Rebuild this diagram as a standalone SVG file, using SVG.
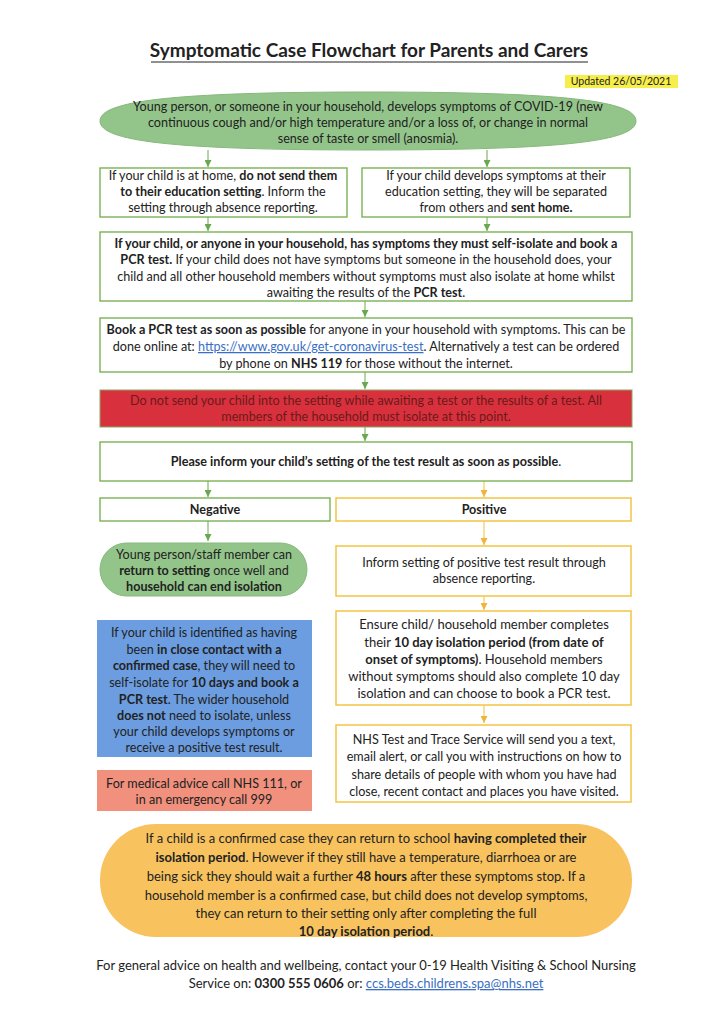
<svg xmlns="http://www.w3.org/2000/svg" width="724" height="1024" viewBox="0 0 724 1024">
<defs>
<marker id="ag" viewBox="0 0 8 8" refX="8" refY="4" markerWidth="7" markerHeight="7" markerUnits="userSpaceOnUse" orient="auto"><path d="M0,0 L8,4 L0,8 Z" fill="#6aa84f"/></marker>
<marker id="ay" viewBox="0 0 8 8" refX="8" refY="4" markerWidth="7" markerHeight="7" markerUnits="userSpaceOnUse" orient="auto"><path d="M0,0 L8,4 L0,8 Z" fill="#f0b43a"/></marker>
<style>
text{font-family:Lato,"Liberation Sans",sans-serif;font-size:12.6px;fill:#222;text-anchor:middle}
.b{font-weight:bold}
.lk{fill:#3a6fc4;text-decoration:underline}
.gbox{fill:#fff;stroke:#70ad47;stroke-width:1.3}
.ybox{fill:#fff;stroke:#f5c342;stroke-width:1.5}
.cg{stroke:#6aa84f;stroke-width:1;fill:none}
.cy{stroke:#f0c040;stroke-width:1;fill:none}
.big text{font-size:13px}
</style>
</defs>
<rect width="724" height="1024" fill="#fff"/>
<g id="title">
<text x="369" y="57" class="b" style="font-size:19px">Symptomatic Case Flowchart for Parents and Carers</text>
<line x1="151" y1="62" x2="588" y2="62" stroke="#222" stroke-width="1.2"/>
</g>
<g id="updated">
<rect x="565" y="75" width="113" height="13" fill="#f6ee4a"/>
<text x="621" y="85" style="font-size:10.5px">Updated 26/05/2021</text>
</g>
<g id="connectors">
<line class="cg" x1="208" y1="150" x2="208" y2="167" marker-end="url(#ag)"/>
<line class="cg" x1="487" y1="150" x2="487" y2="167" marker-end="url(#ag)"/>
<line class="cg" x1="208" y1="217" x2="208" y2="231" marker-end="url(#ag)"/>
<line class="cg" x1="487" y1="217" x2="487" y2="231" marker-end="url(#ag)"/>
<line class="cg" x1="365" y1="301" x2="365" y2="317" marker-end="url(#ag)"/>
<line class="cg" x1="365" y1="372" x2="365" y2="389" marker-end="url(#ag)"/>
<line class="cg" x1="365" y1="427" x2="365" y2="441" marker-end="url(#ag)"/>
<line class="cg" x1="208" y1="481" x2="208" y2="497" marker-end="url(#ag)"/>
<line class="cy" x1="484" y1="481" x2="484" y2="497" marker-end="url(#ay)"/>
<line class="cg" x1="208" y1="521" x2="208" y2="541" marker-end="url(#ag)"/>
<line class="cy" x1="484" y1="521" x2="484" y2="545" marker-end="url(#ay)"/>
<line class="cy" x1="484" y1="596" x2="484" y2="610" marker-end="url(#ay)"/>
<line class="cy" x1="484" y1="705" x2="484" y2="723" marker-end="url(#ay)"/>
</g>
<g id="start">
<path d="M100,121 C100,101 172,92 368,92 C564,92 636,101 636,121 C636,141 564,150 368,150 C172,150 100,141 100,121 Z" fill="#93c58a" stroke="#86b97c"/>
<text x="368" y="111">Young person, or someone in your household, develops symptoms of COVID-19 (new</text>
<text x="368" y="127">continuous cough and/or high temperature and/or a loss of, or change in normal</text>
<text x="368" y="143">sense of taste or smell (anosmia).</text>
</g>
<g id="home">
<rect class="gbox" x="100" y="168" width="247" height="49"/>
<text x="223" y="180">If your child is at home, <tspan class="b">do not send them</tspan></text>
<text x="223" y="196"><tspan class="b">to their education setting</tspan>. Inform the</text>
<text x="223" y="212">setting through absence reporting.</text>
</g>
<g id="setting">
<rect class="gbox" x="362" y="168" width="268" height="49"/>
<text x="496" y="180">If your child develops symptoms at their</text>
<text x="496" y="196">education setting, they will be separated</text>
<text x="496" y="212">from others and <tspan class="b">sent home.</tspan></text>
</g>
<g id="isolate">
<rect class="gbox" x="100" y="232" width="532" height="69"/>
<text x="366" y="248" class="b">If your child, or anyone in your household, has symptoms they must self-isolate and book a</text>
<text x="366" y="264"><tspan class="b">PCR test.</tspan>  If your child does not have symptoms but someone in the household does, your</text>
<text x="366" y="281">child and all other household members without symptoms must also isolate at home whilst</text>
<text x="366" y="297">awaiting the results of the <tspan class="b">PCR test</tspan>.</text>
</g>
<g id="book">
<rect class="gbox" x="100" y="318" width="532" height="54"/>
<text x="366" y="334"><tspan class="b">Book a PCR test as soon as possible</tspan> for anyone in your household with symptoms. This can be</text>
<text x="366" y="351">done online at: <tspan class="lk">https://www.gov.uk/get-coronavirus-test</tspan>.  Alternatively a test can be ordered</text>
<text x="366" y="368">by phone on <tspan class="b">NHS 119</tspan> for those without the internet.</text>
</g>
<g id="warning">
<rect x="100" y="390" width="532" height="37" fill="#d8313d" stroke="#8aa860" stroke-width="1"/>
<text x="366" y="405" style="fill:#6b1a1a">Do not send your child into the setting while awaiting a test or the results of a test.  All</text>
<text x="366" y="421" style="fill:#6b1a1a">members of the household must isolate at this point.</text>
</g>
<g id="inform">
<rect class="gbox" x="100" y="442" width="532" height="39"/>
<text x="366" y="466"><tspan class="b">Please inform your child’s setting of the test result as soon as possible</tspan>.</text>
</g>
<g id="negative">
<rect class="gbox" x="100" y="498" width="230" height="23"/>
<text x="215" y="514" class="b">Negative</text>
</g>
<g id="positive">
<rect class="ybox" x="336" y="498" width="295" height="23"/>
<text x="484" y="514" class="b">Positive</text>
</g>
<g id="return">
<rect x="100" y="543" width="207" height="53" rx="26.5" fill="#93c58a" stroke="#86b97c"/>
<text x="204" y="559">Young person/staff member can</text>
<text x="204" y="575"><tspan class="b">return to setting</tspan> once well and</text>
<text x="204" y="591" class="b">household can end isolation</text>
</g>
<g id="inform-positive">
<rect class="ybox" x="336" y="546" width="295" height="50"/>
<text x="484" y="567">Inform setting of positive test result through</text>
<text x="484" y="583">absence reporting.</text>
</g>
<g id="ensure" class="big">
<rect class="ybox" x="336" y="611" width="295" height="94"/>
<text x="484" y="629">Ensure child/ household member completes</text>
<text x="484" y="647">their <tspan class="b">10 day isolation period (from date of</tspan></text>
<text x="484" y="664"><tspan class="b">onset of symptoms)</tspan>. Household members</text>
<text x="484" y="681">without symptoms should also complete 10 day</text>
<text x="484" y="698">isolation and can choose to book a PCR test.</text>
</g>
<g id="trace">
<rect class="ybox" x="336" y="725" width="295" height="77"/>
<text x="484" y="744">NHS Test and Trace Service will send you a text,</text>
<text x="484" y="761">email alert, or call you with instructions on how to</text>
<text x="484" y="779">share details of people with whom you have had</text>
<text x="484" y="796">close, recent contact and places you have visited.</text>
</g>
<g id="contact">
<rect x="97" y="620" width="215" height="137" fill="#6b9de0"/>
<text x="204" y="637">If your child is identified as having</text>
<text x="204" y="654">been <tspan class="b">in close contact with a</tspan></text>
<text x="204" y="670"><tspan class="b">confirmed case</tspan>, they will need to</text>
<text x="204" y="687">self-isolate for <tspan class="b">10 days and book a</tspan></text>
<text x="204" y="704"><tspan class="b">PCR test</tspan>.  The wider household</text>
<text x="204" y="720"><tspan class="b">does not</tspan> need to isolate, unless</text>
<text x="204" y="736">your child develops symptoms or</text>
<text x="204" y="752">receive a positive test result.</text>
</g>
<g id="medical">
<rect x="97" y="770" width="215" height="41" fill="#f0907d"/>
<text x="204" y="788">For medical advice call NHS 111, or</text>
<text x="204" y="804">in an emergency call 999</text>
</g>
<g id="confirmed" class="big">
<rect x="100" y="824" width="532" height="113" rx="56" fill="#f8c25e"/>
<text x="366" y="843">If a child is a confirmed case they can return to school <tspan class="b">having completed their</tspan></text>
<text x="366" y="862"><tspan class="b">isolation period</tspan>. However if they still have a temperature, diarrhoea or are</text>
<text x="366" y="881">being sick they should wait a further <tspan class="b">48 hours</tspan> after these symptoms stop. If a</text>
<text x="366" y="900">household member is a confirmed case, but child does not develop symptoms,</text>
<text x="366" y="918">they can return to their setting only after completing the full</text>
<text x="366" y="936"><tspan class="b">10 day isolation period</tspan>.</text>
</g>
<g id="footer" class="big">
<text x="366" y="970">For general advice on health and wellbeing, contact your 0-19 Health Visiting &amp; School Nursing</text>
<text x="366" y="988">Service on: <tspan class="b">0300 555 0606</tspan> or: <tspan class="lk">ccs.beds.childrens.spa@nhs.net</tspan></text>
</g>
</svg>
